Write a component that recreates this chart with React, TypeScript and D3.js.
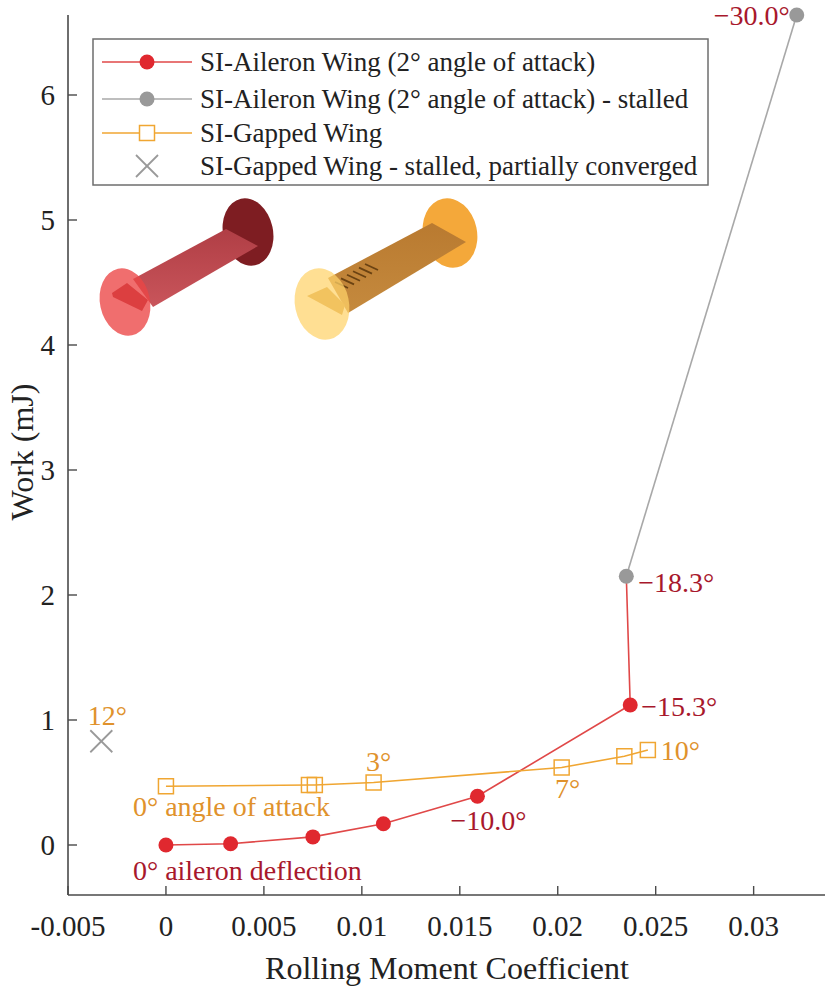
import React from "react";
import * as d3 from "d3";

// ---- data ----
const aileronX = [0, 0.0033, 0.0075, 0.0111, 0.0159, 0.0237];
const aileronY = [0, 0.01, 0.065, 0.17, 0.39, 1.12];
const stalledX = [0.0235, 0.0322];
const stalledY = [2.15, 6.64];
const gappedX = [0, 0.0073, 0.0076, 0.0106, 0.0202, 0.0234, 0.0246];
const gappedY = [0.47, 0.48, 0.48, 0.5, 0.62, 0.71, 0.76];
const partialX = [-0.0033];
const partialY = [0.83];

const xTicks = [-0.005, 0, 0.005, 0.01, 0.015, 0.02, 0.025, 0.03];
const xTickLabels = ["-0.005", "0", "0.005", "0.01", "0.015", "0.02", "0.025", "0.03"];
const yTicks = [0, 1, 2, 3, 4, 5, 6];

const legendLabels = [
  "SI-Aileron Wing (2° angle of attack)",
  "SI-Aileron Wing (2° angle of attack) - stalled",
  "SI-Gapped Wing",
  "SI-Gapped Wing - stalled, partially converged",
];

const redAnnX = [0, 0.0159, 0.0237, 0.0235, 0.0322];
const redAnnY = [0, 0.39, 1.12, 2.15, 6.64];
const redAnnText = ["0° aileron deflection", "−10.0°", "−15.3°", "−18.3°", "−30.0°"];
const orangeAnnX = [0, 0.0106, 0.0202, 0.0246, -0.0033];
const orangeAnnY = [0.47, 0.5, 0.62, 0.76, 0.83];
const orangeAnnText = ["0° angle of attack", "3°", "7°", "10°", "12°"];

// ---- styles ----
const W = 825;
const H = 986;
const RED = "#e0282f";
const RED_LINE = "#e04848";
const RED_TEXT = "#a8182c";
const GRAY = "#999999";
const ORANGE = "#f0a632";
const ORANGE_TEXT = "#e0922c";
const AXIS = "#4a4a4a";
const FONT = "Liberation Serif, DejaVu Serif, serif";

const redOff: [number, number, string][] = [
  [-33, 25, "start"],
  [11, 24, "middle"],
  [11, 1, "start"],
  [12, 6, "start"],
  [-7, 0, "end"],
];
const orangeOff: [number, number, string][] = [
  [-33, 20, "start"],
  [5, -21, "middle"],
  [6, 21, "middle"],
  [13, 0, "start"],
  [6, -26, "middle"],
];

export default function App() {
  const x = d3.scaleLinear().domain([-0.005, 0.034]).range([68, 832]);
  const y = d3.scaleLinear().domain([-0.4, 6.64]).range([895, 15]);

  const line = d3
    .line<[number, number]>()
    .x((d) => x(d[0]))
    .y((d) => y(d[1]));

  const redPts: [number, number][] = aileronX.map((v, i) => [v, aileronY[i]]);
  const redLinePts: [number, number][] = [...redPts, [stalledX[0], stalledY[0]]];
  const grayPts: [number, number][] = stalledX.map((v, i) => [v, stalledY[i]]);
  const orangePts: [number, number][] = gappedX.map((v, i) => [v, gappedY[i]]);
  const xPts: [number, number][] = partialX.map((v, i) => [v, partialY[i]]);

  const sq = 15;
  const axisLeft = x(-0.005);
  const axisBottom = y(-0.4);

  return (
    <svg
      width={W}
      height={H}
      style={{ position: "absolute", left: 0, top: 0, background: "#fff", fontFamily: FONT }}
    >
      <defs>
        <linearGradient id="redBody" x1="0" y1="0" x2="0" y2="1">
          <stop offset="0" stopColor="#b03e45" />
          <stop offset="1" stopColor="#c9555b" />
        </linearGradient>
        <linearGradient id="orBody" x1="0" y1="0" x2="0" y2="1">
          <stop offset="0" stopColor="#b97a30" />
          <stop offset="1" stopColor="#c58a3e" />
        </linearGradient>
      </defs>
      <rect x={0} y={0} width={W} height={H} fill="#fff" />

      {/* wing illustrations */}
      <g>
        {/* red wing */}
        <ellipse cx={248} cy={232} rx={25} ry={34} fill="#7e1d22" transform="rotate(-12 248 232)" />
        <polygon points="133,279 226,229 258,246 153,307" fill="url(#redBody)" />
        <polygon points="112,293 127,283 148,300 142,311 113,297" fill="#a22a31" />
        <ellipse cx={125} cy={302} rx={25} ry={34} fill="#ec4545" opacity={0.78} transform="rotate(-12 125 302)" />
        {/* orange wing */}
        <ellipse cx={450} cy={233} rx={27} ry={35} fill="#f4a83a" transform="rotate(-12 450 233)" />
        <polygon points="328,278 432,223 466,242 348,313" fill="url(#orBody)" />
        {[0, 1, 2, 3, 4, 5].map((i) => (
          <line
            key={i}
            x1={335 + i * 6}
            y1={282 - i * 3.6}
            x2={348 + i * 6}
            y2={288 - i * 3.6}
            stroke="#6a4212"
            strokeWidth={1.8}
          />
        ))}
        <polygon points="307,296 327,287 345,305 342,315" fill="#cf9a45" />
        <ellipse cx={322} cy={304} rx={27} ry={36} fill="#ffd36a" opacity={0.72} transform="rotate(-12 322 304)" />
      </g>

      {/* axes */}
      <line x1={axisLeft} y1={axisBottom} x2={W} y2={axisBottom} stroke={AXIS} strokeWidth={1.6} />
      <line x1={axisLeft} y1={axisBottom} x2={axisLeft} y2={y(6.64)} stroke={AXIS} strokeWidth={1.6} />
      {xTicks.map((t, i) => (
        <g key={"xt" + i}>
          <line x1={x(t)} x2={x(t)} y1={axisBottom} y2={axisBottom - 9} stroke={AXIS} strokeWidth={1.4} />
          <text x={x(t)} y={axisBottom + 31} fontSize={29} textAnchor="middle" dominantBaseline="central" fill="#222">
            {xTickLabels[i]}
          </text>
        </g>
      ))}
      {yTicks.map((t) => (
        <g key={"yt" + t}>
          <line x1={axisLeft} x2={axisLeft + 9} y1={y(t)} y2={y(t)} stroke={AXIS} strokeWidth={1.4} />
          <text x={axisLeft - 13} y={y(t)} fontSize={29} textAnchor="end" dominantBaseline="central" fill="#222">
            {t}
          </text>
        </g>
      ))}
      <text x={447} y={968} fontSize={32} textAnchor="middle" dominantBaseline="central" fill="#222">
        Rolling Moment Coefficient
      </text>
      <text
        transform={`translate(22,452) rotate(-90)`}
        fontSize={32}
        textAnchor="middle"
        dominantBaseline="central"
        fill="#222"
      >
        Work (mJ)
      </text>

      {/* series */}
      <path d={line(grayPts) || ""} fill="none" stroke="#a8a8a8" strokeWidth={1.6} />
      <path d={line(redLinePts) || ""} fill="none" stroke={RED_LINE} strokeWidth={1.6} />
      <path d={line(orangePts) || ""} fill="none" stroke={ORANGE} strokeWidth={1.6} />
      {redPts.map((p, i) => (
        <circle key={"r" + i} cx={x(p[0])} cy={y(p[1])} r={7.5} fill={RED} />
      ))}
      {grayPts.map((p, i) => (
        <circle key={"g" + i} cx={x(p[0])} cy={y(p[1])} r={7.5} fill={GRAY} />
      ))}
      {orangePts.map((p, i) => (
        <rect
          key={"o" + i}
          x={x(p[0]) - sq / 2}
          y={y(p[1]) - sq / 2}
          width={sq}
          height={sq}
          fill="none"
          stroke={ORANGE}
          strokeWidth={1.5}
        />
      ))}
      {xPts.map((p, i) => (
        <g key={"x" + i} stroke={GRAY} strokeWidth={1.8}>
          <line x1={x(p[0]) - 11} y1={y(p[1]) - 11} x2={x(p[0]) + 11} y2={y(p[1]) + 11} />
          <line x1={x(p[0]) - 11} y1={y(p[1]) + 11} x2={x(p[0]) + 11} y2={y(p[1]) - 11} />
        </g>
      ))}

      {/* annotations */}
      {redAnnText.map((t, i) => (
        <text
          key={"ra" + i}
          x={x(redAnnX[i]) + redOff[i][0]}
          y={y(redAnnY[i]) + redOff[i][1]}
          fontSize={28}
          textAnchor={redOff[i][2] as any}
          dominantBaseline="central"
          fill={RED_TEXT}
        >
          {t}
        </text>
      ))}
      {orangeAnnText.map((t, i) => (
        <text
          key={"oa" + i}
          x={x(orangeAnnX[i]) + orangeOff[i][0]}
          y={y(orangeAnnY[i]) + orangeOff[i][1]}
          fontSize={28}
          textAnchor={orangeOff[i][2] as any}
          dominantBaseline="central"
          fill={ORANGE_TEXT}
        >
          {t}
        </text>
      ))}

      {/* legend */}
      <rect x={93} y={39} width={615} height={146} fill="#fff" stroke="#6e6e6e" strokeWidth={1.5} />
      {legendLabels.map((t, i) => {
        const ly = [62, 99, 133, 166][i];
        return (
          <g key={"lg" + i}>
            {i < 3 && (
              <line x1={102} x2={192} y1={ly} y2={ly} stroke={[RED_LINE, "#a8a8a8", ORANGE][i]} strokeWidth={1.6} />
            )}
            {i === 0 && <circle cx={147} cy={ly} r={7.5} fill={RED} />}
            {i === 1 && <circle cx={147} cy={ly} r={7.5} fill={GRAY} />}
            {i === 2 && (
              <rect x={147 - sq / 2} y={ly - sq / 2} width={sq} height={sq} fill="#fff" stroke={ORANGE} strokeWidth={1.5} />
            )}
            {i === 3 && (
              <g stroke={GRAY} strokeWidth={1.8}>
                <line x1={136} y1={ly - 11} x2={158} y2={ly + 11} />
                <line x1={136} y1={ly + 11} x2={158} y2={ly - 11} />
              </g>
            )}
            <text x={200} y={ly} fontSize={27} dominantBaseline="central" fill="#222">
              {t}
            </text>
          </g>
        );
      })}
    </svg>
  );
}
